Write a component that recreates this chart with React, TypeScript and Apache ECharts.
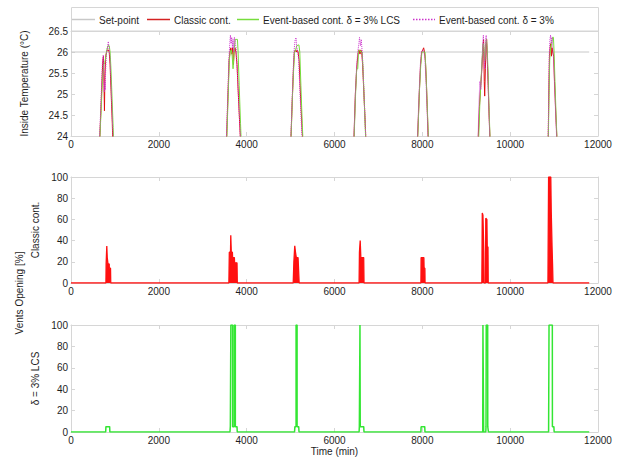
import React, { useEffect, useRef } from "react";
import * as echarts from "echarts";

const FONT = '"Liberation Sans", Arial, sans-serif';

const xTickMin = 0;
const xTickMax = 12000;
const xTickStep = 2000;

const tempMin = 24;
const tempMax = 26.5;
const tempStep = 0.5;

const ventMin = 0;
const ventMax = 100;
const ventStep = 20;

const legendNames = [
  "Set-point",
  "Classic cont.",
  "Event-based cont. δ = 3% LCS",
  "Event-based cont. δ = 3%",
];

const setPoint: [number, number][] = [
  [0, 26],
  [11800, 26],
];

const classicTemp: [number, number][] = [
  [600, 23], [650, 23.8], [680, 24.6], [705, 25.3], [725, 25.8], [740, 25.9], [752, 25.2], [762, 24.6], [772, 25.4], [790, 25.9], [810, 26.0], [830, 26.05], [850, 26.05], [870, 26.0], [890, 25.7], [915, 25.0], [940, 24.3], [960, 23.6], [1000, 23],
  [3500, 23], [3545, 24.0], [3575, 25.0], [3600, 25.8], [3620, 26.0], [3640, 26.1], [3660, 25.95], [3680, 26.1], [3700, 25.7], [3715, 26.05], [3735, 26.1], [3755, 26.0], [3780, 25.7], [3810, 25.0], [3845, 24.2], [3880, 23.5], [3920, 23],
  [4960, 23], [5010, 24.0], [5040, 24.9], [5065, 25.6], [5085, 26.0], [5110, 26.05], [5130, 26.0], [5150, 26.05], [5170, 26.0], [5195, 25.8], [5225, 25.0], [5260, 24.2], [5290, 23.6], [5320, 23],
  [6400, 23], [6445, 24.0], [6475, 25.0], [6505, 25.6], [6535, 25.95], [6560, 26.05], [6580, 25.95], [6600, 26.05], [6620, 26.0], [6640, 25.7], [6670, 25.0], [6700, 24.3], [6725, 23.6], [6760, 23],
  [7850, 23], [7894, 24.0], [7930, 25.0], [7960, 25.7], [7985, 26.0], [8010, 26.05], [8030, 26.1], [8050, 26.0], [8070, 25.8], [8095, 25.2], [8120, 24.4], [8140, 23.7], [8180, 23],
  [9230, 23], [9275, 24.0], [9300, 24.7], [9330, 25.2], [9355, 25.6], [9380, 26.1], [9395, 26.3], [9410, 25.3], [9420, 24.95], [9435, 25.6], [9450, 26.1], [9465, 26.3], [9480, 25.8], [9500, 25.2], [9520, 24.5], [9545, 23.8], [9580, 23],
  [10820, 23], [10868, 24.0], [10880, 25.0], [10895, 25.9], [10910, 26.1], [10925, 26.2], [10940, 25.9], [10955, 26.1], [10970, 26.0], [10990, 25.9], [11010, 25.3], [11040, 24.5], [11070, 23.8], [11110, 23],
];

const lcsTemp: [number, number][] = [
  [600, 23], [655, 23.9], [685, 24.6], [715, 25.3], [745, 25.7], [770, 25.75], [795, 25.9], [815, 26.05], [840, 26.15], [870, 26.15], [890, 26.0], [910, 25.6], [935, 24.9], [960, 24.2], [985, 23.5], [1010, 23],
  [3500, 23], [3550, 24.0], [3580, 25.0], [3605, 25.8], [3625, 26.0], [3650, 26.05], [3670, 25.9], [3690, 25.6], [3705, 25.6], [3720, 26.1], [3740, 26.3], [3790, 26.3], [3805, 26.0], [3830, 25.2], [3860, 24.3], [3890, 23.5], [3930, 23],
  [4960, 23], [5012, 24.0], [5045, 25.0], [5070, 25.6], [5090, 26.0], [5115, 26.05], [5140, 26.15], [5190, 26.17], [5210, 26.0], [5235, 25.2], [5265, 24.3], [5295, 23.6], [5330, 23],
  [6400, 23], [6448, 24.0], [6480, 25.0], [6505, 25.6], [6530, 25.6], [6545, 26.0], [6570, 26.05], [6600, 26.0], [6630, 26.0], [6650, 25.6], [6675, 24.9], [6700, 24.2], [6725, 23.5], [6770, 23],
  [7850, 23], [7897, 24.0], [7935, 25.1], [7965, 25.7], [7990, 26.0], [8030, 26.0], [8060, 26.0], [8080, 25.6], [8105, 24.9], [8130, 24.2], [8150, 23.6], [8190, 23],
  [9230, 23], [9285, 24.0], [9310, 24.8], [9340, 25.4], [9365, 25.9], [9385, 26.2], [9400, 26.1], [9420, 25.8], [9440, 26.2], [9460, 26.3], [9475, 26.1], [9495, 25.6], [9515, 24.8], [9540, 24.0], [9565, 23.4], [9600, 23],
  [10820, 23], [10870, 24.0], [10885, 25.0], [10900, 25.8], [10920, 26.1], [10945, 26.2], [10965, 26.35], [10985, 26.35], [11000, 26.0], [11020, 25.3], [11045, 24.5], [11075, 23.7], [11110, 23],
];

const eventTemp: [number, number][] = [
  [600, 23], [645, 23.8], [675, 24.6], [700, 25.3], [718, 25.8], [735, 25.93], [748, 25.5], [758, 25.05], [768, 25.3], [778, 25.1], [790, 25.6], [810, 26.0], [830, 26.1], [850, 26.25], [865, 26.1], [885, 25.9], [910, 25.3], [935, 24.6], [960, 23.9], [1000, 23],
  [3500, 23], [3540, 24.0], [3570, 25.0], [3595, 25.8], [3615, 26.2], [3630, 26.4], [3645, 26.2], [3660, 26.35], [3675, 26.1], [3690, 26.3], [3705, 26.0], [3720, 26.35], [3740, 26.2], [3760, 26.1], [3785, 25.6], [3815, 24.9], [3850, 24.1], [3880, 23.5], [3920, 23],
  [4960, 23], [5008, 24.0], [5040, 25.0], [5065, 25.7], [5085, 26.1], [5105, 26.3], [5125, 26.34], [5140, 26.1], [5160, 26.05], [5185, 25.8], [5215, 25.0], [5250, 24.2], [5285, 23.5], [5320, 23],
  [6400, 23], [6443, 24.0], [6475, 25.0], [6505, 25.7], [6530, 26.0], [6555, 26.2], [6570, 26.35], [6590, 26.15], [6610, 26.3], [6630, 26.0], [6650, 25.6], [6680, 24.8], [6710, 24.0], [6740, 23.4], [6770, 23],
  [7850, 23], [7890, 24.0], [7925, 25.0], [7955, 25.7], [7980, 26.0], [8010, 26.05], [8035, 26.0], [8055, 25.9], [8080, 25.4], [8105, 24.7], [8130, 24.0], [8160, 23.4], [8190, 23],
  [9230, 23], [9270, 24.0], [9290, 24.8], [9310, 25.3], [9330, 25.1], [9350, 25.5], [9375, 26.2], [9390, 26.4], [9405, 25.9], [9420, 25.6], [9440, 26.3], [9455, 26.4], [9470, 26.1], [9490, 25.5], [9510, 24.8], [9535, 24.0], [9560, 23.4], [9600, 23],
  [10820, 23], [10865, 24.0], [10878, 25.0], [10890, 25.9], [10905, 26.3], [10920, 26.4], [10935, 26.2], [10950, 26.35], [10970, 26.1], [10990, 25.8], [11010, 25.2], [11040, 24.4], [11065, 23.8], [11100, 23],
];

const classicVents: [number, number][] = [
  [0, 0], [795, 0], [800, 18], [812, 18], [815, 35], [822, 35], [825, 24], [838, 24], [842, 18], [870, 18], [872, 14], [900, 14], [905, 0],
  [3595, 0], [3605, 29], [3632, 29], [3638, 45], [3645, 45], [3650, 29], [3675, 29], [3680, 24], [3720, 24], [3725, 19], [3780, 19], [3787, 0],
  [5060, 0], [5075, 20], [5095, 35], [5105, 35], [5112, 29], [5125, 29], [5130, 24], [5170, 24], [5175, 19], [5190, 19], [5195, 0],
  [6560, 0], [6568, 29], [6580, 29], [6585, 40], [6595, 40], [6600, 24], [6665, 24], [6672, 0],
  [7968, 0], [7972, 24], [8035, 24], [8040, 14], [8058, 14], [8062, 0],
  [9355, 0], [9365, 66], [9380, 64], [9400, 29], [9405, 0], [9438, 0], [9445, 61], [9470, 60], [9478, 34], [9495, 34], [9500, 0],
  [10860, 0], [10875, 100], [10925, 100], [10935, 68], [10945, 68], [10955, 32], [10965, 18], [10975, 0], [11800, 0],
];

const lcsVents: [number, number][] = [
  [0, 0], [790, 0], [795, 5], [880, 5], [885, 0],
  [3620, 0], [3628, 5], [3640, 5], [3640, 100], [3680, 100], [3680, 5], [3718, 5], [3718, 100], [3742, 100], [3742, 5], [3780, 5], [3786, 0],
  [5090, 0], [5098, 5], [5125, 5], [5125, 100], [5148, 100], [5148, 5], [5185, 5], [5192, 0],
  [6560, 0], [6566, 5], [6580, 5], [6580, 100], [6586, 100], [6586, 5], [6665, 5], [6672, 0],
  [7968, 0], [7972, 5], [8055, 5], [8060, 0],
  [9375, 0], [9380, 100], [9392, 100], [9396, 0], [9445, 0], [9450, 5], [9455, 100], [9488, 100], [9490, 5], [9500, 5], [9505, 0],
  [10875, 0], [10885, 100], [10960, 100], [10962, 5], [10995, 5], [11002, 0], [11800, 0],
];

const FRAME = "#d6d6d6";
const TEXT = "#1e1e1e";
const C_SET = "#c8c8c8";
const C_RED = "#dd1111";
const C_GREEN = "#77dd3c";
const C_MAG = "#cc33cc";

const plainNum = (v: number) => String(v);

function xAxisFor(gridIndex: number, position: "bottom" | "top", extra: any = {}) {
  const labels = position === "bottom";
  return {
    type: "value",
    gridIndex,
    position,
    min: xTickMin,
    max: xTickMax,
    interval: xTickStep,
    axisLine: { show: true, onZero: false, lineStyle: { color: FRAME, width: 1 } },
    axisTick: { show: true, inside: true, length: 4, lineStyle: { color: FRAME } },
    axisLabel: {
      show: labels,
      margin: 3,
      fontSize: 10,
      color: TEXT,
      fontFamily: FONT,
      formatter: plainNum,
    },
    splitLine: { show: false },
    ...extra,
  };
}

function yAxisFor(
  gridIndex: number,
  position: "left" | "right",
  min: number,
  max: number,
  interval: number,
  extra: any = {}
) {
  const labels = position === "left";
  return {
    type: "value",
    gridIndex,
    position,
    min,
    max,
    interval,
    axisLine: { show: true, onZero: false, lineStyle: { color: FRAME, width: 1 } },
    axisTick: { show: true, inside: true, length: 4, lineStyle: { color: FRAME } },
    axisLabel: {
      show: labels,
      margin: 3,
      fontSize: 10,
      color: TEXT,
      fontFamily: FONT,
      formatter: plainNum,
    },
    splitLine: { show: false },
    ...extra,
  };
}

const nameStyle = { fontSize: 10, color: TEXT, fontFamily: FONT };

function legendEntry(name: string, x0: number, x1: number, color: string, dotted = false) {
  const lineStyle: any = { stroke: color, lineWidth: 1.5, fill: "none" };
  if (dotted) lineStyle.lineDash = [1.5, 1.5];
  return [
    {
      type: "line",
      z: 10,
      shape: { x1: x0, y1: 19.5, x2: x1, y2: 19.5 },
      style: lineStyle,
    },
    {
      type: "text",
      z: 10,
      x: x1 + 4,
      y: 20,
      style: {
        text: name,
        fontSize: 10,
        fontFamily: FONT,
        fill: TEXT,
        align: "left",
        verticalAlign: "middle",
      },
    },
  ];
}

export default function App() {
  const ref = useRef<HTMLDivElement>(null);

  useEffect(() => {
    if (!ref.current) return;
    const chart = echarts.init(ref.current, null, { renderer: "svg" });
    const option: any = {
      animation: false,
      backgroundColor: "#ffffff",
      grid: [
        { left: 71, right: 23, top: 31, height: 105 },
        { left: 71, right: 23, top: 177, height: 106 },
        { left: 71, right: 23, top: 325, height: 107 },
      ],
      xAxis: [
        xAxisFor(0, "bottom"),
        xAxisFor(1, "bottom"),
        xAxisFor(2, "bottom", {
          name: "Time (min)",
          nameLocation: "middle",
          nameGap: 14,
          nameTextStyle: nameStyle,
        }),
        xAxisFor(0, "top"),
        xAxisFor(1, "top"),
        xAxisFor(2, "top"),
      ],
      yAxis: [
        yAxisFor(0, "left", tempMin, tempMax, tempStep, {
          name: "Inside Temperature (°C)",
          nameLocation: "middle",
          nameGap: 42,
          nameTextStyle: nameStyle,
        }),
        yAxisFor(1, "left", ventMin, ventMax, ventStep, {
          name: "Classic cont.",
          nameLocation: "middle",
          nameGap: 12,
          nameTextStyle: nameStyle,
        }),
        yAxisFor(2, "left", ventMin, ventMax, ventStep, {
          name: "δ = 3% LCS",
          nameLocation: "middle",
          nameGap: 12,
          nameTextStyle: nameStyle,
        }),
        yAxisFor(0, "right", tempMin, tempMax, tempStep),
        yAxisFor(1, "right", ventMin, ventMax, ventStep),
        yAxisFor(2, "right", ventMin, ventMax, ventStep),
      ],
      graphic: [
        {
          type: "rect",
          z: -10,
          shape: { x: 71.5, y: 7.5, width: 527, height: 23.5 },
          style: { fill: "#ffffff", stroke: FRAME, lineWidth: 1 },
        },
        ...legendEntry(legendNames[0], 72, 95, C_SET),
        ...legendEntry(legendNames[1], 147, 170, "#d42222"),
        ...legendEntry(legendNames[2], 237, 259, C_GREEN),
        ...legendEntry(legendNames[3], 413, 435, C_MAG, true),
        {
          type: "text",
          x: 19,
          y: 293,
          rotation: Math.PI / 2,
          style: {
            text: "Vents Opening [%]",
            fontSize: 10,
            fontFamily: FONT,
            fill: TEXT,
            align: "center",
            verticalAlign: "middle",
          },
        },
      ],
      series: [
        {
          name: legendNames[0],
          type: "line",
          xAxisIndex: 0,
          yAxisIndex: 0,
          data: setPoint,
          symbol: "none",
          lineStyle: { color: C_SET, width: 1 },
          itemStyle: { color: C_SET },
        },
        {
          name: legendNames[1],
          type: "line",
          xAxisIndex: 0,
          yAxisIndex: 0,
          data: classicTemp,
          symbol: "none",
          clip: true,
          lineStyle: { color: C_RED, width: 1 },
          itemStyle: { color: C_RED },
        },
        {
          name: legendNames[2],
          type: "line",
          xAxisIndex: 0,
          yAxisIndex: 0,
          data: lcsTemp,
          symbol: "none",
          clip: true,
          lineStyle: { color: C_GREEN, width: 1 },
          itemStyle: { color: C_GREEN },
        },
        {
          name: legendNames[3],
          type: "line",
          xAxisIndex: 0,
          yAxisIndex: 0,
          data: eventTemp,
          symbol: "none",
          clip: true,
          lineStyle: { color: C_MAG, width: 1, type: "dotted" },
          itemStyle: { color: C_MAG },
        },
        {
          name: "Classic vents",
          type: "line",
          xAxisIndex: 1,
          yAxisIndex: 1,
          data: classicVents,
          symbol: "none",
          lineStyle: { color: "#ff1010", width: 1.3 },
          areaStyle: { color: "#ff1010", opacity: 1 },
        },
        {
          name: "LCS vents",
          type: "line",
          xAxisIndex: 2,
          yAxisIndex: 2,
          data: lcsVents,
          symbol: "none",
          lineStyle: { color: "#33e633", width: 1.5 },
        },
      ],
    };
    chart.setOption(option);
    return () => {
      chart.dispose();
    };
  }, []);

  return (
    <div
      ref={ref}
      style={{ position: "fixed", left: 0, top: 0, width: 621, height: 472, background: "#fff" }}
    />
  );
}
